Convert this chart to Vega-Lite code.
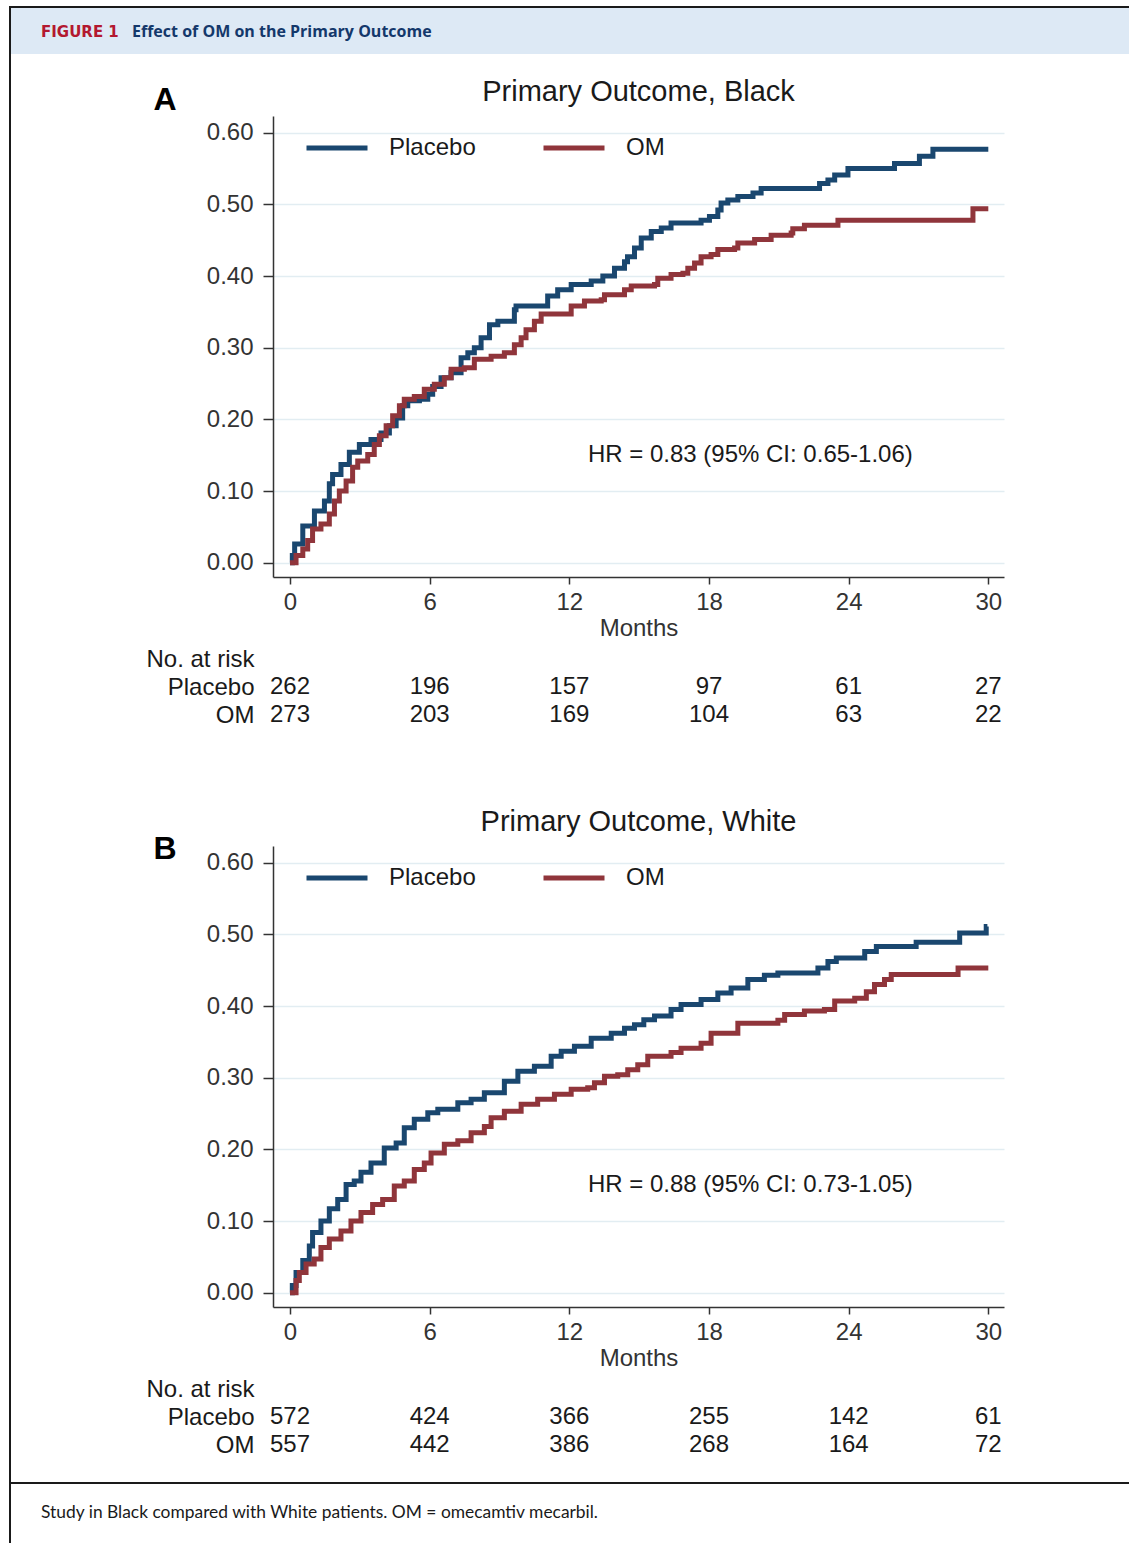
{
  "$schema": "https://vega.github.io/schema/vega-lite/v6.json",
  "padding": {"left": 9, "top": 5, "right": 0, "bottom": 0},
  "background": "white",
  "columns": 2,
  "spacing": 0,
  "bounds": "flush",
  "align": "each",
  "resolve": {
    "scale": {"x": "independent", "y": "independent", "color": "independent"},
    "legend": {"color": "independent"}
  },
  "config": {
    "view": {"stroke": null},
    "font": "Liberation Sans",
    "axis": {"labelFont": "Liberation Sans", "titleFont": "Liberation Sans"},
    "legend": {"labelFont": "Liberation Sans"}
  },
  "datasets": {
    "curveA": [
      {"group": "Placebo", "month": 0, "risk": 0},
      {"group": "Placebo", "month": 0.1, "risk": 0.01},
      {"group": "Placebo", "month": 0.2, "risk": 0.026},
      {"group": "Placebo", "month": 0.55, "risk": 0.051},
      {"group": "Placebo", "month": 1.05, "risk": 0.072},
      {"group": "Placebo", "month": 1.48, "risk": 0.086},
      {"group": "Placebo", "month": 1.69, "risk": 0.11},
      {"group": "Placebo", "month": 1.83, "risk": 0.123},
      {"group": "Placebo", "month": 2.19, "risk": 0.137},
      {"group": "Placebo", "month": 2.55, "risk": 0.154},
      {"group": "Placebo", "month": 2.98, "risk": 0.165},
      {"group": "Placebo", "month": 3.48, "risk": 0.172},
      {"group": "Placebo", "month": 3.91, "risk": 0.181},
      {"group": "Placebo", "month": 4.27, "risk": 0.191},
      {"group": "Placebo", "month": 4.56, "risk": 0.202},
      {"group": "Placebo", "month": 4.84, "risk": 0.219},
      {"group": "Placebo", "month": 5.06, "risk": 0.226},
      {"group": "Placebo", "month": 5.56, "risk": 0.228},
      {"group": "Placebo", "month": 5.92, "risk": 0.235},
      {"group": "Placebo", "month": 6.13, "risk": 0.246},
      {"group": "Placebo", "month": 6.49, "risk": 0.258},
      {"group": "Placebo", "month": 6.92, "risk": 0.265},
      {"group": "Placebo", "month": 7.35, "risk": 0.286},
      {"group": "Placebo", "month": 7.64, "risk": 0.293},
      {"group": "Placebo", "month": 7.92, "risk": 0.3},
      {"group": "Placebo", "month": 8.21, "risk": 0.314},
      {"group": "Placebo", "month": 8.57, "risk": 0.332},
      {"group": "Placebo", "month": 8.93, "risk": 0.337},
      {"group": "Placebo", "month": 9.64, "risk": 0.353},
      {"group": "Placebo", "month": 9.71, "risk": 0.358},
      {"group": "Placebo", "month": 11.07, "risk": 0.372},
      {"group": "Placebo", "month": 11.5, "risk": 0.381},
      {"group": "Placebo", "month": 12.08, "risk": 0.388},
      {"group": "Placebo", "month": 12.94, "risk": 0.393},
      {"group": "Placebo", "month": 13.44, "risk": 0.4},
      {"group": "Placebo", "month": 13.94, "risk": 0.411},
      {"group": "Placebo", "month": 14.37, "risk": 0.42},
      {"group": "Placebo", "month": 14.5, "risk": 0.427},
      {"group": "Placebo", "month": 14.8, "risk": 0.439},
      {"group": "Placebo", "month": 15.09, "risk": 0.453},
      {"group": "Placebo", "month": 15.52, "risk": 0.462},
      {"group": "Placebo", "month": 15.95, "risk": 0.467},
      {"group": "Placebo", "month": 16.37, "risk": 0.474},
      {"group": "Placebo", "month": 17.66, "risk": 0.478},
      {"group": "Placebo", "month": 18.02, "risk": 0.483},
      {"group": "Placebo", "month": 18.38, "risk": 0.492},
      {"group": "Placebo", "month": 18.52, "risk": 0.502},
      {"group": "Placebo", "month": 18.81, "risk": 0.506},
      {"group": "Placebo", "month": 19.24, "risk": 0.511},
      {"group": "Placebo", "month": 19.89, "risk": 0.516},
      {"group": "Placebo", "month": 20.24, "risk": 0.522},
      {"group": "Placebo", "month": 22.75, "risk": 0.529},
      {"group": "Placebo", "month": 23.11, "risk": 0.534},
      {"group": "Placebo", "month": 23.4, "risk": 0.541},
      {"group": "Placebo", "month": 23.97, "risk": 0.55},
      {"group": "Placebo", "month": 25.97, "risk": 0.557},
      {"group": "Placebo", "month": 27.04, "risk": 0.567},
      {"group": "Placebo", "month": 27.62, "risk": 0.577},
      {"group": "Placebo", "month": 30, "risk": 0.577},
      {"group": "OM", "month": 0, "risk": 0},
      {"group": "OM", "month": 0.26, "risk": 0.01},
      {"group": "OM", "month": 0.55, "risk": 0.019},
      {"group": "OM", "month": 0.76, "risk": 0.031},
      {"group": "OM", "month": 0.97, "risk": 0.047},
      {"group": "OM", "month": 1.33, "risk": 0.054},
      {"group": "OM", "month": 1.69, "risk": 0.068},
      {"group": "OM", "month": 1.91, "risk": 0.086},
      {"group": "OM", "month": 2.12, "risk": 0.1},
      {"group": "OM", "month": 2.41, "risk": 0.114},
      {"group": "OM", "month": 2.69, "risk": 0.133},
      {"group": "OM", "month": 2.91, "risk": 0.142},
      {"group": "OM", "month": 3.34, "risk": 0.151},
      {"group": "OM", "month": 3.62, "risk": 0.165},
      {"group": "OM", "month": 3.84, "risk": 0.177},
      {"group": "OM", "month": 4.13, "risk": 0.191},
      {"group": "OM", "month": 4.41, "risk": 0.205},
      {"group": "OM", "month": 4.7, "risk": 0.219},
      {"group": "OM", "month": 4.91, "risk": 0.228},
      {"group": "OM", "month": 5.34, "risk": 0.232},
      {"group": "OM", "month": 5.77, "risk": 0.242},
      {"group": "OM", "month": 6.2, "risk": 0.249},
      {"group": "OM", "month": 6.63, "risk": 0.258},
      {"group": "OM", "month": 6.92, "risk": 0.27},
      {"group": "OM", "month": 7.49, "risk": 0.272},
      {"group": "OM", "month": 7.92, "risk": 0.284},
      {"group": "OM", "month": 8.64, "risk": 0.288},
      {"group": "OM", "month": 9.21, "risk": 0.293},
      {"group": "OM", "month": 9.64, "risk": 0.304},
      {"group": "OM", "month": 9.93, "risk": 0.314},
      {"group": "OM", "month": 10.14, "risk": 0.325},
      {"group": "OM", "month": 10.5, "risk": 0.337},
      {"group": "OM", "month": 10.79, "risk": 0.347},
      {"group": "OM", "month": 12.08, "risk": 0.358},
      {"group": "OM", "month": 12.65, "risk": 0.365},
      {"group": "OM", "month": 13.37, "risk": 0.367},
      {"group": "OM", "month": 13.51, "risk": 0.374},
      {"group": "OM", "month": 14.37, "risk": 0.381},
      {"group": "OM", "month": 14.66, "risk": 0.386},
      {"group": "OM", "month": 15.66, "risk": 0.388},
      {"group": "OM", "month": 15.8, "risk": 0.397},
      {"group": "OM", "month": 16.37, "risk": 0.402},
      {"group": "OM", "month": 16.88, "risk": 0.404},
      {"group": "OM", "month": 17.09, "risk": 0.411},
      {"group": "OM", "month": 17.38, "risk": 0.418},
      {"group": "OM", "month": 17.66, "risk": 0.427},
      {"group": "OM", "month": 18.09, "risk": 0.43},
      {"group": "OM", "month": 18.38, "risk": 0.437},
      {"group": "OM", "month": 19.1, "risk": 0.439},
      {"group": "OM", "month": 19.24, "risk": 0.446},
      {"group": "OM", "month": 19.96, "risk": 0.451},
      {"group": "OM", "month": 20.67, "risk": 0.457},
      {"group": "OM", "month": 21.53, "risk": 0.46},
      {"group": "OM", "month": 21.6, "risk": 0.466},
      {"group": "OM", "month": 22.1, "risk": 0.471},
      {"group": "OM", "month": 23.54, "risk": 0.478},
      {"group": "OM", "month": 29.34, "risk": 0.494},
      {"group": "OM", "month": 30, "risk": 0.494}
    ],
    "curveB": [
      {"group": "Placebo", "month": 0, "risk": 0},
      {"group": "Placebo", "month": 0.1, "risk": 0.01},
      {"group": "Placebo", "month": 0.26, "risk": 0.028},
      {"group": "Placebo", "month": 0.55, "risk": 0.045},
      {"group": "Placebo", "month": 0.83, "risk": 0.065},
      {"group": "Placebo", "month": 0.97, "risk": 0.084},
      {"group": "Placebo", "month": 1.33, "risk": 0.1},
      {"group": "Placebo", "month": 1.69, "risk": 0.117},
      {"group": "Placebo", "month": 2.05, "risk": 0.13},
      {"group": "Placebo", "month": 2.41, "risk": 0.151},
      {"group": "Placebo", "month": 2.76, "risk": 0.156},
      {"group": "Placebo", "month": 3.05, "risk": 0.168},
      {"group": "Placebo", "month": 3.48, "risk": 0.181},
      {"group": "Placebo", "month": 4.05, "risk": 0.202},
      {"group": "Placebo", "month": 4.56, "risk": 0.209},
      {"group": "Placebo", "month": 4.91, "risk": 0.23},
      {"group": "Placebo", "month": 5.34, "risk": 0.242},
      {"group": "Placebo", "month": 5.92, "risk": 0.251},
      {"group": "Placebo", "month": 6.35, "risk": 0.256},
      {"group": "Placebo", "month": 7.21, "risk": 0.265},
      {"group": "Placebo", "month": 7.78, "risk": 0.27},
      {"group": "Placebo", "month": 8.35, "risk": 0.279},
      {"group": "Placebo", "month": 9.21, "risk": 0.295},
      {"group": "Placebo", "month": 9.79, "risk": 0.309},
      {"group": "Placebo", "month": 10.5, "risk": 0.316},
      {"group": "Placebo", "month": 11.22, "risk": 0.33},
      {"group": "Placebo", "month": 11.65, "risk": 0.337},
      {"group": "Placebo", "month": 12.22, "risk": 0.344},
      {"group": "Placebo", "month": 12.94, "risk": 0.355},
      {"group": "Placebo", "month": 13.8, "risk": 0.362},
      {"group": "Placebo", "month": 14.37, "risk": 0.369},
      {"group": "Placebo", "month": 14.8, "risk": 0.374},
      {"group": "Placebo", "month": 15.2, "risk": 0.381},
      {"group": "Placebo", "month": 15.66, "risk": 0.386},
      {"group": "Placebo", "month": 16.37, "risk": 0.395},
      {"group": "Placebo", "month": 16.8, "risk": 0.402},
      {"group": "Placebo", "month": 17.66, "risk": 0.409},
      {"group": "Placebo", "month": 18.38, "risk": 0.418},
      {"group": "Placebo", "month": 18.95, "risk": 0.425},
      {"group": "Placebo", "month": 19.67, "risk": 0.437},
      {"group": "Placebo", "month": 20.38, "risk": 0.443},
      {"group": "Placebo", "month": 20.96, "risk": 0.446},
      {"group": "Placebo", "month": 22.68, "risk": 0.453},
      {"group": "Placebo", "month": 23.11, "risk": 0.462},
      {"group": "Placebo", "month": 23.47, "risk": 0.467},
      {"group": "Placebo", "month": 24.69, "risk": 0.476},
      {"group": "Placebo", "month": 25.19, "risk": 0.483},
      {"group": "Placebo", "month": 26.9, "risk": 0.489},
      {"group": "Placebo", "month": 28.77, "risk": 0.502},
      {"group": "Placebo", "month": 29.91, "risk": 0.511},
      {"group": "Placebo", "month": 29.96, "risk": 0.511},
      {"group": "OM", "month": 0, "risk": 0},
      {"group": "OM", "month": 0.26, "risk": 0.017},
      {"group": "OM", "month": 0.4, "risk": 0.028},
      {"group": "OM", "month": 0.69, "risk": 0.04},
      {"group": "OM", "month": 1.04, "risk": 0.047},
      {"group": "OM", "month": 1.33, "risk": 0.063},
      {"group": "OM", "month": 1.69, "risk": 0.075},
      {"group": "OM", "month": 2.19, "risk": 0.086},
      {"group": "OM", "month": 2.62, "risk": 0.1},
      {"group": "OM", "month": 3.05, "risk": 0.112},
      {"group": "OM", "month": 3.55, "risk": 0.123},
      {"group": "OM", "month": 3.98, "risk": 0.13},
      {"group": "OM", "month": 4.48, "risk": 0.149},
      {"group": "OM", "month": 4.91, "risk": 0.156},
      {"group": "OM", "month": 5.34, "risk": 0.172},
      {"group": "OM", "month": 5.77, "risk": 0.181},
      {"group": "OM", "month": 6.06, "risk": 0.195},
      {"group": "OM", "month": 6.63, "risk": 0.207},
      {"group": "OM", "month": 7.21, "risk": 0.212},
      {"group": "OM", "month": 7.78, "risk": 0.223},
      {"group": "OM", "month": 8.35, "risk": 0.232},
      {"group": "OM", "month": 8.64, "risk": 0.244},
      {"group": "OM", "month": 9.21, "risk": 0.253},
      {"group": "OM", "month": 9.93, "risk": 0.263},
      {"group": "OM", "month": 10.64, "risk": 0.27},
      {"group": "OM", "month": 11.36, "risk": 0.277},
      {"group": "OM", "month": 12.08, "risk": 0.284},
      {"group": "OM", "month": 12.79, "risk": 0.286},
      {"group": "OM", "month": 13.08, "risk": 0.293},
      {"group": "OM", "month": 13.51, "risk": 0.302},
      {"group": "OM", "month": 14.08, "risk": 0.304},
      {"group": "OM", "month": 14.51, "risk": 0.311},
      {"group": "OM", "month": 14.94, "risk": 0.318},
      {"group": "OM", "month": 15.37, "risk": 0.33},
      {"group": "OM", "month": 16.37, "risk": 0.335},
      {"group": "OM", "month": 16.8, "risk": 0.341},
      {"group": "OM", "month": 17.66, "risk": 0.348},
      {"group": "OM", "month": 18.09, "risk": 0.362},
      {"group": "OM", "month": 19.24, "risk": 0.376},
      {"group": "OM", "month": 20.96, "risk": 0.38},
      {"group": "OM", "month": 21.25, "risk": 0.388},
      {"group": "OM", "month": 22.1, "risk": 0.393},
      {"group": "OM", "month": 22.96, "risk": 0.395},
      {"group": "OM", "month": 23.4, "risk": 0.407},
      {"group": "OM", "month": 24.26, "risk": 0.411},
      {"group": "OM", "month": 24.76, "risk": 0.42},
      {"group": "OM", "month": 25.11, "risk": 0.43},
      {"group": "OM", "month": 25.54, "risk": 0.437},
      {"group": "OM", "month": 25.83, "risk": 0.444},
      {"group": "OM", "month": 28.7, "risk": 0.453},
      {"group": "OM", "month": 30, "risk": 0.453}
    ],
    "riskA": [
      {"row": "Placebo", "month": 0, "n": 262},
      {"row": "Placebo", "month": 6, "n": 196},
      {"row": "Placebo", "month": 12, "n": 157},
      {"row": "Placebo", "month": 18, "n": 97},
      {"row": "Placebo", "month": 24, "n": 61},
      {"row": "Placebo", "month": 30, "n": 27},
      {"row": "OM", "month": 0, "n": 273},
      {"row": "OM", "month": 6, "n": 203},
      {"row": "OM", "month": 12, "n": 169},
      {"row": "OM", "month": 18, "n": 104},
      {"row": "OM", "month": 24, "n": 63},
      {"row": "OM", "month": 30, "n": 22}
    ],
    "riskB": [
      {"row": "Placebo", "month": 0, "n": 572},
      {"row": "Placebo", "month": 6, "n": 424},
      {"row": "Placebo", "month": 12, "n": 366},
      {"row": "Placebo", "month": 18, "n": 255},
      {"row": "Placebo", "month": 24, "n": 142},
      {"row": "Placebo", "month": 30, "n": 61},
      {"row": "OM", "month": 0, "n": 557},
      {"row": "OM", "month": 6, "n": 442},
      {"row": "OM", "month": 12, "n": 386},
      {"row": "OM", "month": 18, "n": 268},
      {"row": "OM", "month": 24, "n": 164},
      {"row": "OM", "month": 30, "n": 72}
    ]
  },
  "concat": [
    {
      "width": 263, "height": 2, "view": {"fill": "#1a1a1a"},
      "data": {"values": [{}]},
      "mark": {"type": "rule", "color": "#1a1a1a", "strokeWidth": 2},
      "encoding": {"x": {"datum": 0, "type": "quantitative", "scale": {"domain": [0, 1]}, "axis": null}}
    },
    {
      "width": 857, "height": 2, "view": {"fill": "#1a1a1a"},
      "data": {"values": []}, "mark": "point"
    },
    {
      "width": 263, "height": 46, "view": {"fill": "#dde9f5"},
      "data": {"values": [{}]},
      "mark": {"type": "rule", "color": "#1a1a1a", "strokeWidth": 2},
      "encoding": {"x": {"datum": 0, "type": "quantitative", "scale": {"domain": [0, 1]}, "axis": null}}
    },
    {
      "width": 857, "height": 46, "view": {"fill": "#dde9f5"},
      "data": {"values": [{"fig": "FIGURE 1", "ttl": "Effect of OM on the Primary Outcome"}]},
      "layer": [
        {
          "mark": {"type": "text", "align": "left", "baseline": "middle", "font": "DejaVu Sans", "fontWeight": "bold", "fontSize": 15, "color": "#b3182f"},
          "encoding": {
            "x": {"datum": -0.2707, "type": "quantitative", "scale": {"domain": [0, 1]}, "axis": null},
            "y": {"datum": 0.478, "type": "quantitative", "scale": {"domain": [0, 1]}, "axis": null},
            "text": {"field": "fig"}
          }
        },
        {
          "mark": {"type": "text", "align": "left", "baseline": "middle", "font": "Open Sans", "fontWeight": "bold", "fontSize": 16, "color": "#14386b"},
          "encoding": {
            "x": {"datum": -0.1645, "type": "quantitative", "scale": {"domain": [0, 1]}, "axis": null},
            "y": {"datum": 0.478, "type": "quantitative", "scale": {"domain": [0, 1]}, "axis": null},
            "text": {"field": "ttl"}
          }
        }
      ]
    },
    {
      "width": 263, "height": 62,
      "data": {"values": [{}]},
      "mark": {"type": "rule", "color": "#1a1a1a", "strokeWidth": 2},
      "encoding": {"x": {"datum": 0, "type": "quantitative", "scale": {"domain": [0, 1]}, "axis": null}}
    },
    {
      "width": 857, "height": 62,
      "data": {"values": []}, "mark": "point"
    },
    {
      "width": 263, "height": 461,
      "data": {"values": [{}]},
      "mark": {"type": "rule", "color": "#1a1a1a", "strokeWidth": 2},
      "encoding": {"x": {"datum": 0, "type": "quantitative", "scale": {"domain": [0, 1]}, "axis": null}}
    },
    {
      "width": 731, "height": 461,
      "title": {"text": "Primary Outcome, Black", "fontSize": 29, "fontWeight": "normal", "font": "Liberation Sans", "color": "#1a1a1a", "anchor": "middle", "frame": "group", "offset": -47, "baseline": "alphabetic"},
      "layer": [
        {
          "data": {"name": "curveA"},
          "mark": {"type": "line", "interpolate": "step-after", "strokeWidth": 5},
          "encoding": {
            "x": {"field": "month", "type": "quantitative", "scale": {"domain": [-0.73, 30.674], "nice": false, "zero": false},
              "axis": {"values": [0, 6, 12, 18, 24, 30], "grid": false, "tickSize": 7, "tickColor": "#333", "tickWidth": 1.5, "domainColor": "#333", "domainWidth": 1.5, "labelFontSize": 24, "labelColor": "#333", "labelPadding": 6, "labelFlush": false, "title": "Months", "titleFontSize": 24, "titleFontWeight": "normal", "titleColor": "#333", "titlePadding": 2}},
            "y": {"field": "risk", "type": "quantitative", "scale": {"domain": [-0.02, 0.6233], "nice": false, "zero": false},
              "axis": {"values": [0, 0.1, 0.2, 0.3, 0.4, 0.5, 0.6], "format": ".2f", "grid": true, "gridColor": "#e2edf2", "gridWidth": 1.5, "tickSize": 10, "tickColor": "#333", "tickWidth": 1.5, "domainColor": "#333", "domainWidth": 1.5, "labelFontSize": 24, "labelColor": "#333", "labelPadding": 10, "title": "A", "titleAngle": 0, "titleX": -120, "titleY": -7, "titleAlign": "left", "titleBaseline": "alphabetic", "titleFontSize": 32, "titleFontWeight": "bold", "titleColor": "#000"}},
            "color": {"field": "group", "type": "nominal", "scale": {"domain": ["Placebo", "OM"], "range": ["#1a476f", "#90353b"]},
              "legend": {"orient": "none", "legendX": 31, "legendY": -1, "direction": "horizontal", "title": null, "symbolType": "stroke", "symbolSize": 3721, "symbolStrokeWidth": 5, "labelFontSize": 24, "labelColor": "#1a1a1a", "labelOffset": 19, "columnPadding": 57, "padding": 0}}
          }
        },
        {
          "data": {"values": [{"hr": "HR = 0.83 (95% CI: 0.65-1.06)"}]},
          "mark": {"type": "text", "align": "left", "baseline": "middle", "fontSize": 24, "color": "#1a1a1a"},
          "encoding": {"x": {"datum": 12.8}, "y": {"datum": 0.1503}, "text": {"field": "hr"}}
        }
      ]
    },
    {
      "width": 263, "height": 269,
      "data": {"values": [{}]},
      "mark": {"type": "rule", "color": "#1a1a1a", "strokeWidth": 2},
      "encoding": {"x": {"datum": 0, "type": "quantitative", "scale": {"domain": [0, 1]}, "axis": null}}
    },
    {
      "width": 731, "height": 269,
      "data": {"name": "riskA"},
      "mark": {"type": "text", "fontSize": 24, "color": "#1a1a1a", "align": "center", "baseline": "middle"},
      "encoding": {
        "x": {"field": "month", "type": "quantitative", "scale": {"domain": [-0.73, 30.674], "nice": false, "zero": false}, "axis": null},
        "y": {"field": "row", "type": "nominal", "scale": {"type": "point", "domain": ["No. at risk", "Placebo", "OM"], "range": [82, 138], "padding": 0},
          "axis": {"orient": "left", "domain": false, "ticks": false, "labelPadding": 19, "labelFontSize": 24, "labelColor": "#1a1a1a", "title": null, "grid": false}},
        "text": {"field": "n"}
      }
    },
    {
      "width": 263, "height": 461,
      "data": {"values": [{}]},
      "mark": {"type": "rule", "color": "#1a1a1a", "strokeWidth": 2},
      "encoding": {"x": {"datum": 0, "type": "quantitative", "scale": {"domain": [0, 1]}, "axis": null}}
    },
    {
      "width": 731, "height": 461,
      "title": {"text": "Primary Outcome, White", "fontSize": 29, "fontWeight": "normal", "font": "Liberation Sans", "color": "#1a1a1a", "anchor": "middle", "frame": "group", "offset": -28, "baseline": "alphabetic"},
      "layer": [
        {
          "data": {"name": "curveB"},
          "mark": {"type": "line", "interpolate": "step-after", "strokeWidth": 5},
          "encoding": {
            "x": {"field": "month", "type": "quantitative", "scale": {"domain": [-0.73, 30.674], "nice": false, "zero": false},
              "axis": {"values": [0, 6, 12, 18, 24, 30], "grid": false, "tickSize": 7, "tickColor": "#333", "tickWidth": 1.5, "domainColor": "#333", "domainWidth": 1.5, "labelFontSize": 24, "labelColor": "#333", "labelPadding": 6, "labelFlush": false, "title": "Months", "titleFontSize": 24, "titleFontWeight": "normal", "titleColor": "#333", "titlePadding": 2}},
            "y": {"field": "risk", "type": "quantitative", "scale": {"domain": [-0.02, 0.6233], "nice": false, "zero": false},
              "axis": {"values": [0, 0.1, 0.2, 0.3, 0.4, 0.5, 0.6], "format": ".2f", "grid": true, "gridColor": "#e2edf2", "gridWidth": 1.5, "tickSize": 10, "tickColor": "#333", "tickWidth": 1.5, "domainColor": "#333", "domainWidth": 1.5, "labelFontSize": 24, "labelColor": "#333", "labelPadding": 10, "title": "B", "titleAngle": 0, "titleX": -120, "titleY": 12, "titleAlign": "left", "titleBaseline": "alphabetic", "titleFontSize": 32, "titleFontWeight": "bold", "titleColor": "#000"}},
            "color": {"field": "group", "type": "nominal", "scale": {"domain": ["Placebo", "OM"], "range": ["#1a476f", "#90353b"]},
              "legend": {"orient": "none", "legendX": 31, "legendY": -1, "direction": "horizontal", "title": null, "symbolType": "stroke", "symbolSize": 3721, "symbolStrokeWidth": 5, "labelFontSize": 24, "labelColor": "#1a1a1a", "labelOffset": 19, "columnPadding": 57, "padding": 0}}
          }
        },
        {
          "data": {"values": [{"hr": "HR = 0.88 (95% CI: 0.73-1.05)"}]},
          "mark": {"type": "text", "align": "left", "baseline": "middle", "fontSize": 24, "color": "#1a1a1a"},
          "encoding": {"x": {"datum": 12.8}, "y": {"datum": 0.1503}, "text": {"field": "hr"}}
        }
      ]
    },
    {
      "width": 263, "height": 175,
      "data": {"values": [{}]},
      "mark": {"type": "rule", "color": "#1a1a1a", "strokeWidth": 2},
      "encoding": {"x": {"datum": 0, "type": "quantitative", "scale": {"domain": [0, 1]}, "axis": null}}
    },
    {
      "width": 731, "height": 175,
      "data": {"name": "riskB"},
      "mark": {"type": "text", "fontSize": 24, "color": "#1a1a1a", "align": "center", "baseline": "middle"},
      "encoding": {
        "x": {"field": "month", "type": "quantitative", "scale": {"domain": [-0.73, 30.674], "nice": false, "zero": false}, "axis": null},
        "y": {"field": "row", "type": "nominal", "scale": {"type": "point", "domain": ["No. at risk", "Placebo", "OM"], "range": [82, 138], "padding": 0},
          "axis": {"orient": "left", "domain": false, "ticks": false, "labelPadding": 19, "labelFontSize": 24, "labelColor": "#1a1a1a", "title": null, "grid": false}},
        "text": {"field": "n"}
      }
    },
    {
      "width": 263, "height": 2, "view": {"fill": "#1a1a1a"},
      "data": {"values": [{}]},
      "mark": {"type": "rule", "color": "#1a1a1a", "strokeWidth": 2},
      "encoding": {"x": {"datum": 0, "type": "quantitative", "scale": {"domain": [0, 1]}, "axis": null}}
    },
    {
      "width": 857, "height": 2, "view": {"fill": "#1a1a1a"},
      "data": {"values": []}, "mark": "point"
    },
    {
      "width": 263, "height": 60,
      "data": {"values": [{"cap": "Study in Black compared with White patients. OM = omecamtiv mecarbil."}]},
      "layer": [
        {
          "mark": {"type": "rule", "color": "#1a1a1a", "strokeWidth": 2},
          "encoding": {"x": {"datum": 0, "type": "quantitative", "scale": {"domain": [0, 1]}, "axis": null}}
        },
        {
          "mark": {"type": "text", "align": "left", "baseline": "middle", "font": "Lato", "fontSize": 17.4, "color": "#1a1a1a"},
          "encoding": {
            "x": {"datum": 0.1179, "type": "quantitative", "scale": {"domain": [0, 1]}, "axis": null},
            "y": {"datum": 0.517, "type": "quantitative", "scale": {"domain": [0, 1]}, "axis": null},
            "text": {"field": "cap"}
          }
        }
      ]
    },
    {
      "width": 857, "height": 60,
      "data": {"values": []}, "mark": "point"
    }
  ]
}
